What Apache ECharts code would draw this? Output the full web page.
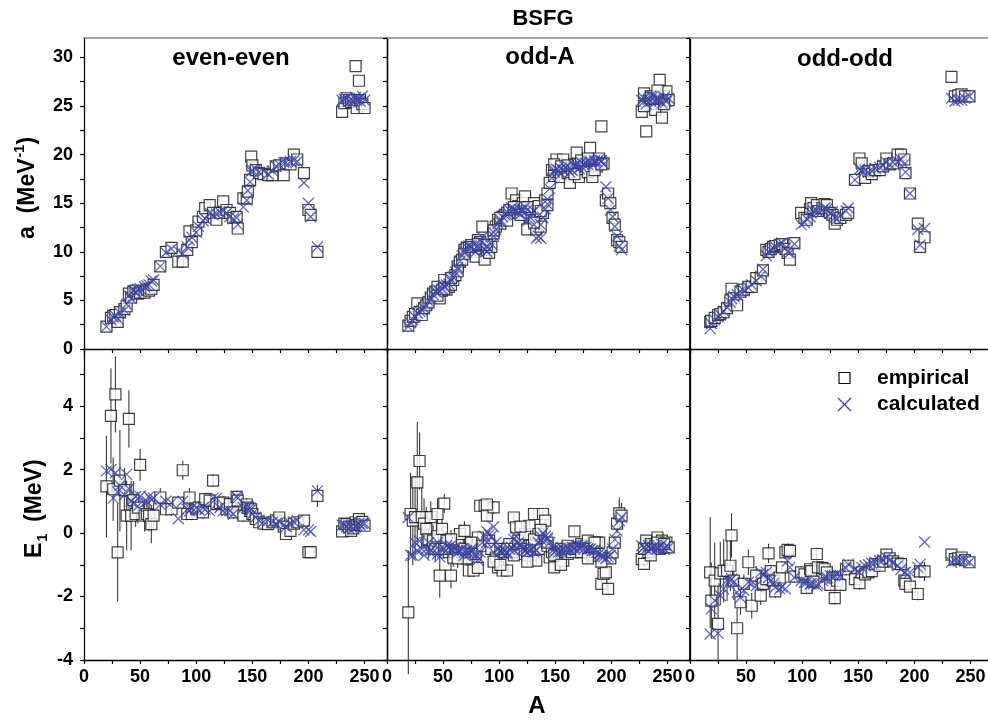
<!DOCTYPE html>
<html><head><meta charset="utf-8">
<script src="https://cdn.jsdelivr.net/npm/echarts@6/dist/echarts.min.js"></script>
<style>html,body{margin:0;padding:0;background:#fff}#c{width:988px;height:720px}</style>
</head><body><div id="c"></div>
<script>
// ---------- even-even ----------
const eeA = [20,24,26,28,30,32,36,38,40,42, 44,46,48,50,54,56,58,60,62,68, 73,78,84,88,92,94,96,100,102,106, 108,112,115,118,121,124,127,130,133,136, 137,142,145,146,148,149,150,153,156,160, 164,168,171,174,178,180,184,187,190,196, 200,202,208,230,232,234,236,238,240,242, 243,245,246,248,250];
const eeAEmp = [2.3,3.2,3.4,3.5,2.8,3.8,4.1,4.4,5.7,5.3, 5.9,6.0,5.7,5.8,5.8,6.1,6.0,6.2,6.6,8.5, 10.0,10.4,9.0,9.0,10.2,12.1,11.0,12.2,13.1,13.6, 14.5,14.8,14.0,13.3,14.0,15.2,14.3,14.0,13.5,13.6, 12.4,15.5,15.5,16.2,17.4,19.8,18.9,18.4,18.1,18.0, 17.9,17.9,18.8,18.9,17.9,19.1,19.0,20.0,19.5,18.1, 14.3,13.8,10.0,24.4,25.3,25.8,25.6,25.4,25.6,29.1, 24.8,27.6,25.6,25.2,24.8];
const eeACalc = [2.3,3.0,3.3,3.4,3.1,3.7,4.0,4.6,5.5,5.2, 6.0,5.9,6.1,6.2,6.4,6.5,6.6,7.0,7.1,8.5, 9.9,10.3,10.1,9.8,10.5,11.2,11.5,12.0,12.6,13.2, 13.4,14.0,13.8,13.9,14.1,14.2,14.0,13.6,13.4,13.5, 12.8,14.6,15.3,16.3,17.2,18.3,18.4,18.5,18.2,18.3, 18.0,18.3,18.8,19.0,19.2,19.2,19.3,19.4,19.3,17.1, 15.0,13.6,10.5,25.6,25.7,25.8,25.5,25.7,25.5,25.9, 25.6,25.8,25.5,26.0,25.6];
const eeEEmp = [1.47,3.69,1.38,4.37,-0.61,1.65,1.35,0.55,3.6,0.55, 1.04,0.6,0.8,2.15,0.55,0.6,0.55,0.28,0.55,1.12, 0.75,0.75,0.96,1.98,0.6,1.12,0.6,0.75,0.8,0.65, 1.07,1.02,1.65,0.91,0.95,0.96,0.75,0.91,0.65,1.14, 1.02,0.55,0.9,0.8,0.7,0.75,0.6,0.45,0.34,0.3, 0.28,0.34,0.4,0.49,0.2,-0.03,0.07,0.3,0.34,0.39, -0.6,-0.6,1.17,0.05,0.3,0.28,0.2,0.07,0.15,0.34, 0.25,0.44,0.3,0.35,0.23];
const eeECalc = [1.96,2.0,1.1,1.9,1.3,1.5,1.2,1.85,1.4,1.0, 0.95,1.15,0.85,1.15,0.95,1.0,1.15,1.05,1.1,0.9, 1.0,0.95,0.45,1.0,0.75,0.7,0.8,0.8,0.75,0.8, 0.75,0.7,1.1,1.1,0.8,0.7,0.7,0.7,0.6,1.15, 1.1,0.8,0.8,0.85,0.8,0.75,0.6,0.5,0.4,0.35, 0.4,0.35,0.3,0.35,0.25,0.2,0.3,0.35,0.4,0.1, 0.1,0.05,1.33,0.25,0.25,0.2,0.15,0.2,0.15,0.2, 0.25,0.3,0.25,0.3,0.3];
const eeEErr = [1.6,1.5,1.0,1.2,1.55,1.6,0.7,1.1,0.9,1.1, 0.6,0.4,0.5,0.5,0.5,0.4,0.5,0.6,0.4,0.3, 0.2,0.2,0.2,0.3,0.2,0.3,0.2,0.2,0.2,0.2, 0.2,0.2,0.2,0.2,0.2,0.2,0.2,0.2,0.2,0.2, 0.2,0.2,0.2,0.2,0.2,0.3,0.2,0.1,0.1,0.1, 0.1,0.1,0.1,0.1,0.1,0.1,0.1,0.1,0.1,0.1, 0.15,0.15,0.35,0.1,0.1,0.1,0.1,0.1,0.1,0.1, 0.1,0.1,0.1,0.1,0.1];

// ---------- odd-A ----------
const oaA = [19,21,23,25,27,29,31,33,35,37, 39,41,43,45,47,49,51,53,55,57, 59,61,63,65,67,69,71,73,75,77, 79,81,83,85,87,89,91,93,95,97, 99,101,103,105,107,109,111,113,115,117, 119,121,123,125,127,129,131,133,135,137, 139,141,143,145,147,149,151,153,155,157, 159,161,163,165,167,169,171,173,175,177, 179,181,183,185,187,189,191,193,195,197, 199,201,203,205,207,209, 227,229,231,233, 235,237,239,241,243,245,247,249,251,
  45,51,57,63,69,75,81,89,95,101, 107,113,119,125,131,137,143,149,155,161, 167,173,179,185,191,229,235,241,247];
const oaAEmp = [2.4,2.9,3.3,3.6,4.7,3.8,3.5,4.2,4.5,4.8, 5.3,5.7,5.9,6.4,5.2,6.0,7.1,6.1,6.4,6.6, 7.1,7.6,8.5,9.0,9.2,10.2,10.4,10.4,10.7,10.0, 9.5,11.2,11.0,12.6,9.2,10.2,9.9,10.5,11.9,12.6, 13.3,12.9,13.6,13.8,14.0,14.3,16.0,14.0,15.3,14.7, 14.2,15.0,15.7,12.3,13.6,14.4,15.0,12.3,14.7,12.6, 14.0,15.3,16.0,17.1,18.4,17.8,19.5,18.2,17.7,19.5, 18.6,18.1,17.1,18.5,19.0,20.2,17.7,18.5,19.0,18.8, 18.2,20.7,17.7,19.2,18.8,19.6,22.9,19.1,15.3,16.0, 15.0,13.5,12.8,11.2,11.0,10.5, 24.4,26.3,22.4,25.5, 26.0,25.2,24.6,25.8,27.7,23.8,26.0,26.5,25.6,
  5.5,6.2,7.3,8.0,9.8,10.5,10.8,10.7,12.2,13.5, 13.2,14.6,13.8,14.6,13.0,14.2,14.8,19.0,18.8,18.9, 18.0,19.4,19.6,18.4,19.0,25.0,25.8,26.6,25.2];
const oaACalc = [2.3,2.7,3.0,3.3,3.7,3.9,4.0,4.2,4.5,4.9, 5.2,5.6,5.9,6.1,6.0,6.2,6.5,6.6,6.7,7.0, 7.4,7.9,8.4,9.0,9.6,10.1,10.5,10.6,10.4,10.2, 10.0,10.6,11.1,11.5,10.3,10.0,10.3,10.8,11.6,12.3, 12.9,13.3,13.6,13.8,14.1,14.3,14.5,14.4,14.2,14.0, 13.9,14.3,14.6,13.2,13.6,14.0,14.2,11.4,11.6,12.8, 13.5,14.4,15.4,16.5,17.6,18.2,18.5,18.3,18.0,18.4, 18.7,18.5,18.2,18.4,18.8,19.0,18.6,18.8,19.0,19.1, 19.0,19.3,19.0,19.2,19.3,19.5,19.4,19.0,16.7,15.5, 14.3,13.6,12.6,11.6,10.6,10.2, 25.6,25.8,25.2,25.7, 25.5,26.0,25.4,25.8,25.6,25.3,25.9,25.5,25.8,
  5.8,6.4,7.2,8.2,9.9,10.6,10.4,10.6,12.0,13.1, 13.8,14.2,14.3,14.3,12.8,11.4,14.9,18.4,18.6,18.8, 18.9,19.2,19.3,19.4,19.3,25.5,26.0,25.6,25.7];
const oaEEmp = [-2.5,0.6,0.39,0.5,1.6,2.27,0.5,0.3,0.13,-0.2, 0.5,-0.24,-0.5,-0.1,-1.34,0.13,0.93,-0.24,-0.6,-1.34, -0.77,-0.5,-0.3,-0.03,-0.6,0.07,-0.8,-1.18,-0.6,-1.18, -0.66,-0.14,0.86,-0.4,0.86,0.55,-0.24,-0.5,0.81,-0.77, -1.08,-0.5,-1.18,-0.6,-1.18,-0.35,-0.6,0.49,0.18,-0.24, -0.5,-0.66,-0.03,-0.7,0.23,-0.4,0.6,-0.87,-0.03,-0.5, 0.6,0.39,-0.4,-0.77,-0.6,-1.08,-0.66,-0.7,-0.5,-0.87, -0.6,-0.66,-0.5,-0.6,0.05,-0.45,-0.5,-0.35,-0.6,-0.4, -0.24,-0.5,-0.71,-0.6,-0.3,-0.3,-1.6,-1.29,-1.24,-1.76, -0.8,-0.61,-0.3,0.3,0.62,0.55, -0.82,-0.97,-0.24,-0.6, -0.35,-0.5,-0.4,-0.14,-0.5,-0.24,-0.45,-0.3,-0.45,
  0.6,-0.5,-0.2,-0.8,-0.5,-0.3,-1.1,0.9,-0.9,-1.0, -0.5,-0.7,0.2,-0.9,-0.2,0.1,-0.3,-0.7,-1.0,-0.4, -0.5,-0.6,-0.8,-0.3,-0.9,-0.5,-0.7,-0.3,-0.35];
const oaECalc = [0.49,-0.7,-0.71,-0.3,-0.55,-0.25,-0.5,-0.7,-0.5,-0.3, -0.55,-0.6,-0.4,-0.65,-0.75,-0.45,-0.5,-0.4,-0.45,-0.5, -0.55,-0.45,-0.6,-0.55,-0.5,-0.6,-0.55,-0.65,-0.6,-0.5, -0.7,-0.85,-0.6,-0.3,-0.1,0.05,-0.05,-0.1,0.2,-0.3, -0.5,-0.55,-0.6,-0.55,-0.6,-0.5,-0.45,-0.2,-0.1,-0.3, -0.4,-0.5,-0.55,-0.5,-0.55,-0.5,-0.45,-0.55,-0.3,-0.1, 0.0,-0.1,-0.2,-0.3,-0.45,-0.5,-0.55,-0.6,-0.55,-0.5, -0.55,-0.5,-0.5,-0.45,-0.45,-0.4,-0.45,-0.4,-0.4,-0.45, -0.5,-0.5,-0.55,-0.55,-0.6,-0.65,-0.7,-0.75,-0.8,-0.75, -0.7,-0.5,-0.2,0.07,0.39,0.5, -0.4,-0.45,-0.5,-0.4, -0.5,-0.45,-0.4,-0.5,-0.45,-0.35,-0.5,-0.4,-0.45,
  -0.3,-0.6,-0.4,-0.55,-0.7,-0.5,-0.75,-0.3,-0.6,-0.6, -0.65,-0.55,-0.35,-0.6,-0.6,-0.2,-0.15,-0.6,-0.6,-0.45, -0.5,-0.45,-0.5,-0.55,-0.75,-0.45,-0.5,-0.45,-0.5];
const oaEErr = [1.95,1.3,1.4,1.3,1.9,0.9,1.0,0.8,0.7,0.6, 0.5,0.5,0.4,0.5,0.7,0.4,0.3,0.3,0.4,0.4, 0.3,0.3,0.3,0.3,0.3,0.3,0.2,0.2,0.2,0.2, 0.2,0.2,0.2,0.2,0.2,0.2,0.2,0.2,0.2,0.2, 0.2,0.15,0.15,0.15,0.15,0.15,0.15,0.15,0.15,0.15, 0.15,0.15,0.15,0.15,0.15,0.15,0.15,0.15,0.15,0.15, 0.15,0.15,0.15,0.15,0.15,0.15,0.15,0.15,0.15,0.15, 0.15,0.15,0.15,0.15,0.15,0.15,0.15,0.15,0.15,0.15, 0.15,0.15,0.15,0.15,0.15,0.15,0.15,0.15,0.15,0.15, 0.15,0.15,0.2,0.3,0.5,0.4, 0.1,0.1,0.1,0.1, 0.1,0.1,0.1,0.1,0.1,0.1,0.1,0.1,0.1,
  0.5,0.3,0.3,0.3,0.3,0.2,0.2,0.2,0.2,0.15, 0.15,0.15,0.15,0.15,0.15,0.15,0.15,0.15,0.15,0.15, 0.15,0.15,0.15,0.15,0.15,0.1,0.1,0.1,0.1];

// ---------- odd-odd ----------
const ooA = [18,19,22,25,27,30,33,36,37,39, 42,45,48,52,55,59,63,65,68,70, 72,74,76,80,82,85,87,89,93,99, 102,104,107,108,110,113,114,118,120,122, 125,127,129,131,134,139,141,147,151,153, 156,159,162,165,169,172,175,178,181,185, 188,191,192,196,203,205,209, 233,236,239,242,245,249];
const ooAEmp = [2.8,2.9,3.2,3.5,3.6,3.8,4.2,5.0,6.2,5.2, 4.5,5.9,6.1,6.4,6.4,7.3,7.3,8.1,10.2,10.0, 10.3,10.5,10.6,10.7,10.8,10.3,9.9,9.2,10.9,14.0, 13.5,13.3,14.4,15.0,14.5,14.8,14.2,14.5,14.9,14.8, 14.0,13.8,12.9,13.3,13.5,13.8,14.0,17.4,19.6,19.1, 17.6,18.3,18.0,18.4,18.4,18.8,19.6,19.0,19.1,20.0, 20.0,19.5,18.1,16.0,12.9,10.5,11.5, 28.0,26.0,26.1,26.2,26.0,26.0];
const ooACalc = [2.1,2.6,3.0,3.3,3.5,3.9,4.3,4.8,5.2,5.4, 5.6,5.9,6.0,6.3,6.6,7.0,7.5,8.2,9.6,10.0, 10.2,10.4,10.5,10.8,10.9,10.4,10.0,9.9,10.8,12.8, 13.0,13.4,13.6,14.0,14.2,14.3,14.1,14.3,14.5,14.4, 14.0,14.1,13.5,13.4,13.7,14.2,14.5,17.4,18.5,18.4, 18.4,18.2,18.3,18.6,18.7,18.9,19.2,19.0,19.2,19.3, 19.5,19.0,18.2,16.0,12.3,10.7,12.4, 25.8,25.5,25.6,25.6,25.8,26.0];
const ooEEmp = [-1.24,-2.13,-1.5,-2.86,-1.27,-1.19,-1.19,-1.03,-0.07,-1.5, -3.0,-2.18,-1.6,-0.92,-2.29,-1.34,-1.97,-1.6,-1.45,-0.64, -1.2,-1.5,-1.84,-1.4,-1.08,-0.61,-0.53,-0.56,-1.37,-1.24, -1.3,-1.73,-1.14,-1.2,-1.53,-0.66,-1.08,-1.1,-1.14,-1.24, -1.63,-1.4,-2.05,-1.5,-1.63,-1.14,-1.03,-1.45,-1.58,-1.24, -1.3,-1.24,-1.2,-0.98,-1.03,-0.9,-0.68,-0.8,-0.89,-0.96, -0.98,-1.5,-1.6,-1.69,-1.92,-1.21,-1.21, -0.68,-0.82,-0.8,-0.77,-0.85,-0.92];
const ooECalc = [-3.18,-2.39,-2.13,-3.16,-1.97,-1.76,-1.5,-1.5,-1.45,-1.55, -1.87,-2.03,-1.8,-1.55,-1.6,-1.66,-1.24,-1.3,-1.24,-1.4, -1.5,-1.6,-1.71,-1.76,-1.7,-1.76,-0.87,-1.08,-1.4,-1.5, -1.55,-1.55,-1.6,-1.6,-1.6,-1.66,-1.6,-1.5,-1.4,-1.4, -1.34,-1.34,-1.34,-1.3,-1.34,-1.1,-0.98,-1.14,-1.24,-1.08, -1.03,-1.0,-0.95,-0.92,-0.87,-0.85,-0.77,-0.85,-0.92,-1.03, -1.14,-1.24,-1.24,-1.24,-1.08,-0.98,-0.28, -0.92,-0.87,-0.87,-0.85,-0.85,-0.92];
const ooEErr = [1.75,1.2,1.2,1.2,1.0,1.0,0.95,0.8,0.7,0.6, 1.0,0.4,0.3,0.4,0.4,0.3,0.3,0.3,0.3,0.3, 0.2,0.2,0.2,0.2,0.2,0.2,0.2,0.2,0.2,0.2, 0.2,0.2,0.2,0.2,0.2,0.2,0.2,0.2,0.2,0.2, 0.2,0.2,0.2,0.2,0.2,0.2,0.2,0.2,0.2,0.2, 0.2,0.2,0.2,0.2,0.2,0.15,0.15,0.15,0.15,0.15, 0.15,0.15,0.15,0.15,0.2,0.2,0.3, 0.1,0.1,0.1,0.1,0.1,0.1];

// ---------- axis ticks / labels ----------
const xTickLabels = [0,50,100,150,200,250];
const aTickLabels = [0,5,10,15,20,25,30];
const eTickLabels = [-4,-2,0,2,4];
const panelNames = ['even-even','odd-A','odd-odd'];

const FONT = '"Liberation Sans", Arial, Helvetica, sans-serif';
const BLUE = '#3b44a6';
const XPATH = 'path://M0,0L10,10M10,0L0,10';

const chart = echarts.init(document.getElementById('c'), null, {renderer:'canvas'});

const grids = [];
const lefts = [84, 387, 690];
for (let r = 0; r < 2; r++) for (let c = 0; c < 3; c++)
  grids.push({left: lefts[c], top: r === 0 ? 38 : 349, width: 303, height: 311,
    containLabel:false, outerBoundsMode:'none'});

const lblStyle = {fontSize:18, fontWeight:'bold', color:'#000', fontFamily:FONT};
const xAxes = [], yAxes = [];
for (let g = 0; g < 6; g++) {
  xAxes.push({type:'value', gridIndex:g, min:0, max:270, interval:25, position:'bottom',
    axisLine:{show:true, onZero:false, lineStyle:{color:'#000', width:1.3}},
    axisTick:{show:true, length:4, lineStyle:{color:'#000', width:1.2}},
    splitLine:{show:false},
    axisLabel:Object.assign({show: g >= 3, margin:8, showMaxLabel:false,
      formatter: v => xTickLabels.includes(v) ? String(v) : ''}, lblStyle)});
}
for (let g = 0; g < 3; g++) {
  xAxes.push({type:'value', gridIndex:g, min:0, max:270, position:'top',
    axisLine:{show:true, onZero:false, lineStyle:{color:'#888', width:1.5}},
    axisTick:{show:false}, axisLabel:{show:false}, splitLine:{show:false}});
}
for (let g = 0; g < 6; g++) {
  const top = g < 3;
  const labels = top ? aTickLabels : eTickLabels;
  yAxes.push({type:'value', gridIndex:g, position:'left',
    min: top ? 0 : -4, max: top ? 32 : 5.8, interval: top ? 2.5 : 1,
    axisLine:{show:true, onZero:false, lineStyle:{color:'#000', width: g % 3 === 2 ? 1.8 : 1.3}},
    axisTick:{show: g % 3 === 0, length:4, lineStyle:{color:'#000', width:1.2}},
    splitLine:{show:false},
    axisLabel:Object.assign({show: g % 3 === 0, margin:11, showMaxLabel:false,
      formatter: v => labels.includes(v) ? String(v) : ''}, lblStyle)});
}
for (let g = 0; g < 6; g++) {
  const top = g < 3;
  const edge = g % 3 === 2;
  yAxes.push({type:'value', gridIndex:g, position:'right', show: !edge,
    min: top ? 0 : -4, max: top ? 32 : 5.8, interval: top ? 2.5 : 1,
    axisLine:{show:true, onZero:false, lineStyle:{color:'#000', width:1.3}},
    axisTick:{show:true, inside:true, length:4, lineStyle:{color:'#000', width:1.2}},
    splitLine:{show:false}, axisLabel:{show:false}});
}

function panelSeries(g, xs, emp, calc, err) {
  const out = [];
  if (err) {
    out.push({type:'custom', xAxisIndex:g, yAxisIndex:g, silent:true, clip:false, z:1,
      data: xs.map((x, i) => [x, emp[i] - err[i], emp[i] + err[i]]),
      encode:{x:0, y:[1,2]},
      renderItem: (params, api) => {
        const p1 = api.coord([api.value(0), api.value(1)]);
        const p2 = api.coord([api.value(0), api.value(2)]);
        return {type:'line', shape:{x1:p1[0], y1:p1[1], x2:p2[0], y2:p2[1]},
          style:{stroke:'#3a3a3a', lineWidth:1.1}};
      }});
  }
  out.push({type:'scatter', xAxisIndex:g, yAxisIndex:g, silent:true, z:2,
    symbol:'rect', symbolSize:11,
    itemStyle:{color:'#fff', borderColor:'#111', borderWidth:1.2},
    data: xs.map((x, i) => [x, emp[i]])});
  out.push({type:'scatter', xAxisIndex:g, yAxisIndex:g, silent:true, z:3,
    symbol:XPATH, symbolSize:11,
    itemStyle:{color:'none', borderColor:BLUE, borderWidth:1.3},
    data: xs.map((x, i) => [x, calc[i]])});
  return out;
}

const series = [].concat(
  panelSeries(0, eeA, eeAEmp, eeACalc, null),
  panelSeries(1, oaA, oaAEmp, oaACalc, null),
  panelSeries(2, ooA, ooAEmp, ooACalc, null),
  panelSeries(3, eeA, eeEEmp, eeECalc, eeEErr),
  panelSeries(4, oaA, oaEEmp, oaECalc, oaEErr),
  panelSeries(5, ooA, ooEEmp, ooECalc, ooEErr)
);

function txt(x, y, text, size, extra) {
  return Object.assign({type:'text', x:x, y:y, style:{text:text, font:'bold ' + size + 'px ' + FONT,
    fill:'#000', align:'center', verticalAlign:'middle', textAlign:'center', textVerticalAlign:'middle'}}, extra || {});
}
function ltxt(x, y, text, size) {
  return {type:'text', x:x, y:y, style:{text:text, font:'bold ' + size + 'px ' + FONT,
    fill:'#000', align:'left', verticalAlign:'middle', textAlign:'left', textVerticalAlign:'middle'}};
}

const graphic = [
  txt(543, 19, 'BSFG', 22),
  txt(231, 58.5, panelNames[0], 24),
  txt(540, 57, panelNames[1], 24),
  txt(845, 59.5, panelNames[2], 24),
  txt(537, 706.5, 'A', 24),
  {type:'group', x:28, y:187, rotation:Math.PI/2, children:[
    ltxt(-52, 0, 'a  (MeV', 23),
    ltxt(29.5, -8, '-1', 14),
    ltxt(42.5, 0, ')', 23)
  ]},
  {type:'group', x:35, y:510, rotation:Math.PI/2, children:[
    ltxt(-48, 0, 'E', 23),
    ltxt(-31.5, 8, '1', 14),
    ltxt(-12, 0, '(MeV)', 23)
  ]},
  {type:'rect', shape:{x:839, y:372.5, width:11, height:11}, style:{fill:'#fff', stroke:'#111', lineWidth:1.2}},
  {type:'line', shape:{x1:838, y1:398, x2:851, y2:411}, style:{stroke:BLUE, lineWidth:1.3}},
  {type:'line', shape:{x1:851, y1:398, x2:838, y2:411}, style:{stroke:BLUE, lineWidth:1.3}},
  ltxt(877, 378, 'empirical', 21),
  ltxt(877, 404.5, 'calculated', 21)
];

chart.setOption({
  animation:false,
  backgroundColor:'#fff',
  grid:grids, xAxis:xAxes, yAxis:yAxes, series:series, graphic:graphic
});
</script></body></html>
